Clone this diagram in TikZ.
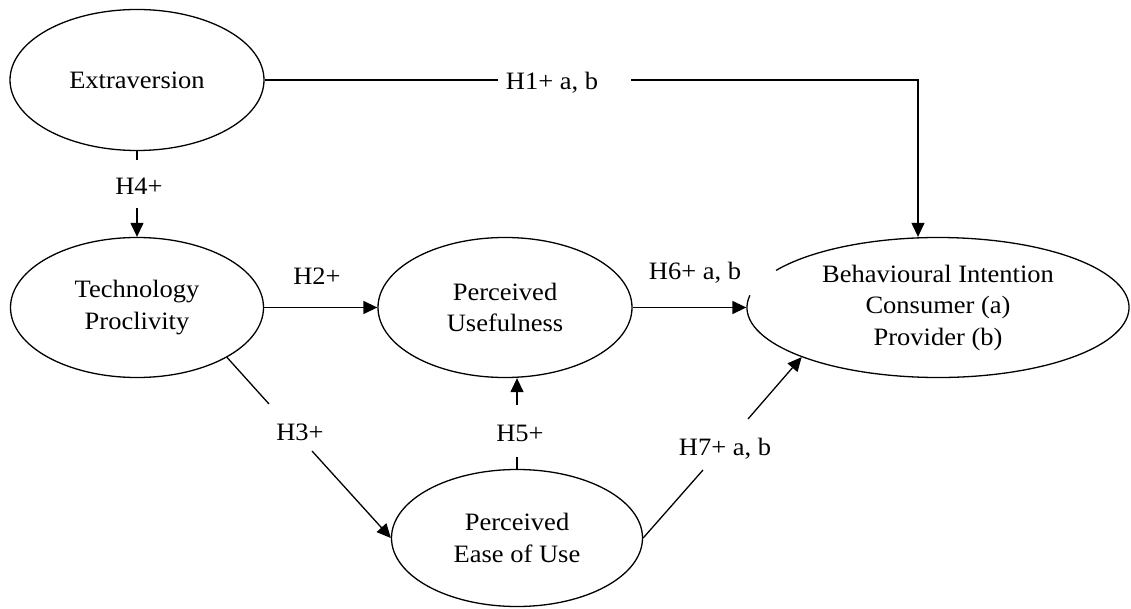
\documentclass[tikz,border=0pt]{standalone}
\usepackage{fontspec}
\setmainfont{Liberation Serif}[FakeStretch=1.06]
\usetikzlibrary{shapes.geometric,arrows.meta}
\begin{document}
\begin{tikzpicture}[x=1pt,y=1pt,
  construct/.style={ellipse, draw, line width=1.3pt, inner sep=0pt, align=center,
    font=\fontsize{25}{31.5}\selectfont},
  hyp/.style={anchor=base, inner sep=0pt, font=\fontsize{25}{30}\selectfont},
  link/.style={line width=1.3pt},
  arrowlink/.style={line width=1.3pt, -{Triangle[length=14pt,width=13pt]}}]
\useasboundingbox[fill=white] (0,0) rectangle (1131,608);

% constructs
\node[construct, minimum width=254pt, minimum height=141pt] (EX) at (137,528) {Extraversion};
\node[construct, minimum width=253pt, minimum height=140pt] (TP) at (137,300.5) {Technology\\Proclivity};
\node[construct, minimum width=254pt, minimum height=140pt] (PU) at (505,300.5) {Perceived\\Usefulness};
\node[construct, minimum width=251pt, minimum height=137pt] (PEU) at (517,70) {Perceived\\Ease of Use};
\node[construct, draw=none, minimum width=382pt, minimum height=140pt] (BI) at (938,300.5)
  {Behavioural Intention\\Consumer (a)\\Provider (b)};
\draw[link] ([shift={(170:191 and 70)}]BI.center)
  arc[start angle=170, end angle=508, x radius=191, y radius=70];

% hypothesis labels
\node[hyp] (h1) at (552,518) {H1+ a, b};
\node[hyp] (h4) at (139,413) {H4+};
\node[hyp] (h2) at (317,323) {H2+};
\node[hyp] (h6) at (695,328) {H6+ a, b};
\node[hyp] (h3) at (300,168) {H3+};
\node[hyp] (h5) at (520,167) {H5+};
\node[hyp] (h7) at (725,153) {H7+ a, b};

% free ends of broken connectors
\coordinate (c1a) at (498,528);
\coordinate (c1b) at (631,528);
\coordinate (c1c) at (918,528);
\coordinate (c4a) at (137,448);
\coordinate (c4b) at (137,400);
\coordinate (c3a) at (269,204);
\coordinate (c3b) at (312,157);
\coordinate (c5a) at (517,151);
\coordinate (c5b) at (517,203);
\coordinate (c7a) at (703,138);
\coordinate (c7b) at (748,189);

% H1
\draw[link] (EX.east) -- (c1a);
\draw[arrowlink] (c1b) -- (c1c) -- (c1c |- BI.north);
% H4
\draw[link] (EX.south) -- (c4a);
\draw[arrowlink] (c4b) -- (TP.north);
% H2
\draw[arrowlink] (TP.east) -- (PU.west);
% H6
\draw[arrowlink] (PU.east) -- (BI.west);
% H3
\draw[link] (TP.-29) -- (c3a);
\draw[arrowlink] (c3b) -- (PEU.west);
% H5
\draw[link] (PEU.north) -- (c5a);
\draw[arrowlink] (c5b) -- (PU.south -| c5b);
% H7
\draw[link] (PEU.east) -- (c7a);
\draw[arrowlink] (c7b) -- (BI.200);
\end{tikzpicture}
\end{document}
